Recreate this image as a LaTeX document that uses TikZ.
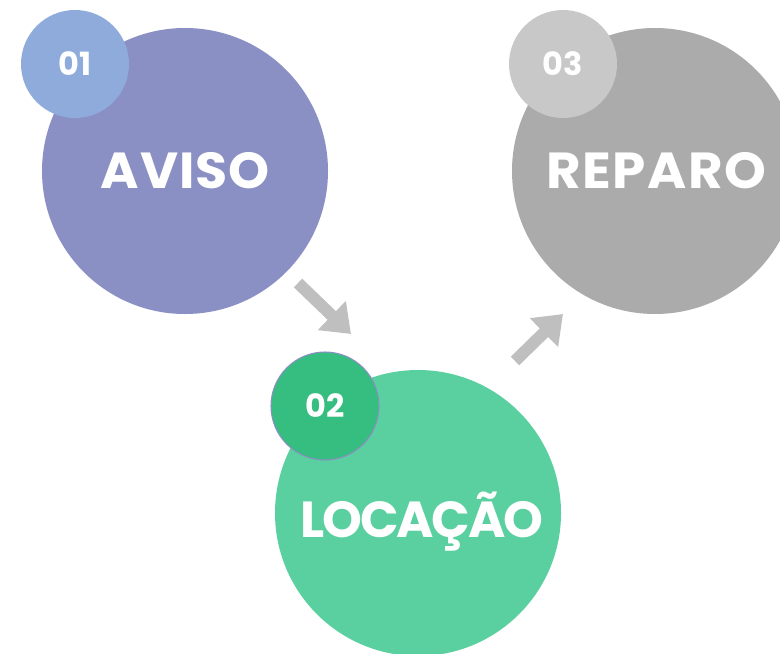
\documentclass[tikz,border=0pt]{standalone}
\usepackage{fontspec}
\setmainfont{Poppins}
\usetikzlibrary{arrows.meta}

\definecolor{avisoC}{HTML}{8A8FC4}
\definecolor{avisoN}{HTML}{8EABDC}
\definecolor{locaC}{HTML}{5ACFA0}
\definecolor{locaN}{HTML}{36BD80}
\definecolor{reparoC}{HTML}{ABABAB}
\definecolor{reparoN}{HTML}{C8C8C8}
\definecolor{setaC}{HTML}{BFBFBF}

\tikzset{
  bigcirc/.style={circle, inner sep=0pt, minimum size=214.5pt, text=white,
    font=\fontsize{38}{40}\selectfont\bfseries},
  numcirc/.style={circle, inner sep=0pt, minimum size=81pt, text=white,
    font=\fontsize{24}{26}\selectfont\bfseries},
  seta/.style={setaC, line width=9pt, -{Triangle[length=20pt,width=29pt]}}
}

\begin{document}
\begin{tikzpicture}[x=0.75pt, y=0.75pt]
    \useasboundingbox (0,0) rectangle (780,-653);
    \clip (0,0) rectangle (780,-653);

    % circulos grandes
    \node[bigcirc, fill=avisoC] (aviso) at (185,-171)
        {\addfontfeature{FakeStretch=1.03,LetterSpace=1.5}AVISO};
    \node[bigcirc, fill=locaC] (locacao) at (418,-513)
        {\smash{\raisebox{-18pt}{\hspace*{6pt}\addfontfeature{LetterSpace=-4.5}LOCAÇÃO}}};
    \node[bigcirc, fill=reparoC] (reparo) at (655,-171)
        {\hspace*{2pt}\addfontfeature{FakeStretch=1.05,LetterSpace=3}REPARO};

    % numeros
    \node[numcirc, fill=avisoN] (n1) at (75,-64) {01};
    \node[numcirc, fill=locaN, draw=avisoC, line width=0.8pt] (n2) at (325,-406) {02};
    \node[numcirc, fill=reparoN] (n3) at (563,-64) {03};

    % setas
    \coordinate (s1a) at (298,-283);
    \coordinate (s1b) at (351,-334);
    \coordinate (s2a) at (515,-361);
    \coordinate (s2b) at (563,-314);
    \draw[seta] (s1a) -- (s1b);
    \draw[seta] (s2a) -- (s2b);
\end{tikzpicture}
\end{document}
